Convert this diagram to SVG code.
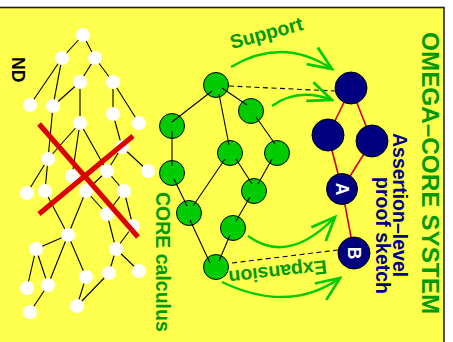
<svg xmlns="http://www.w3.org/2000/svg" width="453" height="342" viewBox="0 0 453 342">
<style>
.w{fill:#ffffff}
.g{fill:#00cc00;stroke:#000;stroke-width:1}
.b{fill:#000080;stroke:#000;stroke-width:1}
.e{stroke:#000;stroke-width:1.1;fill:none}
.r{stroke:#cc0000;stroke-width:1.6;fill:none}
.x{stroke:#dd0000;stroke-width:5;fill:none}
.d{stroke:#000;stroke-width:1.1;stroke-dasharray:5 3.5;fill:none}
.a{stroke:#00cc00;stroke-width:2.4;fill:none;marker-end:url(#ah)}
.t{font-family:"Liberation Sans",Arial,sans-serif;font-weight:bold}
.tg{fill:#009900}
.tb{fill:#000080}
.tw{fill:#fff}
</style>
<defs>
<marker id="ah" markerUnits="userSpaceOnUse" markerWidth="30" markerHeight="30" refX="0" refY="0" viewBox="-22 -11 24 22" orient="auto">
<path d="M-19,-8 L0,0 L-19,8" fill="none" stroke="#00cc00" stroke-width="2.2"/>
</marker>
</defs>
<rect x="0" y="0" width="453" height="342" fill="#fff"/>
<rect x="-5" y="7.5" width="449" height="340" fill="#ffff4d" stroke="#222" stroke-width="1.6"/>

<g id="connectors">
<g class="e">
<line x1="83" y1="35" x2="62" y2="58"/>
<line x1="83" y1="35" x2="95" y2="58"/>
<line x1="62" y1="58" x2="30" y2="105"/>
<line x1="62" y1="58" x2="53" y2="106"/>
<line x1="95" y1="58" x2="80" y2="82"/>
<line x1="95" y1="58" x2="113" y2="82"/>
<line x1="80" y1="82" x2="53" y2="106"/>
<line x1="80" y1="82" x2="80" y2="123"/>
<line x1="113" y1="82" x2="113" y2="114"/>
<line x1="113" y1="82" x2="139" y2="123"/>
<line x1="53" y1="106" x2="48" y2="159"/>
<line x1="80" y1="123" x2="48" y2="159"/>
<line x1="80" y1="123" x2="72" y2="176"/>
<line x1="80" y1="123" x2="107" y2="171"/>
<line x1="113" y1="114" x2="122" y2="147"/>
<line x1="122" y1="147" x2="107" y2="171"/>
<line x1="122" y1="147" x2="148" y2="171"/>
<line x1="48" y1="159" x2="27" y2="193"/>
<line x1="48" y1="159" x2="45" y2="191"/>
<line x1="107" y1="171" x2="86" y2="191"/>
<line x1="107" y1="171" x2="124" y2="191"/>
<line x1="45" y1="191" x2="68" y2="235"/>
<line x1="86" y1="191" x2="68" y2="235"/>
<line x1="86" y1="191" x2="107" y2="214"/>
<line x1="124" y1="191" x2="107" y2="214"/>
<line x1="124" y1="191" x2="133" y2="226"/>
<line x1="107" y1="214" x2="116" y2="249"/>
<line x1="133" y1="226" x2="116" y2="249"/>
<line x1="68" y1="235" x2="36" y2="249"/>
<line x1="68" y1="235" x2="86" y2="277"/>
<line x1="68" y1="235" x2="48" y2="285"/>
<line x1="36" y1="249" x2="27" y2="288"/>
<line x1="36" y1="249" x2="48" y2="285"/>
<line x1="116" y1="249" x2="109" y2="273"/>
<line x1="116" y1="249" x2="139" y2="271"/>
<line x1="86" y1="277" x2="77" y2="306"/>
<line x1="109" y1="273" x2="77" y2="306"/>
<line x1="48" y1="285" x2="30" y2="312"/>
</g>
<g class="r">
<line x1="351" y1="88" x2="328" y2="135"/>
<line x1="351" y1="88" x2="372" y2="141"/>
<line x1="328" y1="135" x2="342" y2="189"/>
<line x1="372" y1="141" x2="342" y2="189"/>
<line x1="342" y1="189" x2="354" y2="253"/>
</g>
<line class="d" x1="229" y1="86" x2="335" y2="91"/>
<line class="d" x1="232" y1="263" x2="338" y2="250"/>
<path class="a" d="M231,67 Q282.5,36 332,69"/>
<path class="a" d="M272,106 Q298,87 332,100"/>
<path class="a" d="M248,236 Q288.5,265.5 335,217"/>
<path class="a" d="M222,282 Q289,314 340,278"/>
</g>

<g id="nd-nodes" class="w">
<g id="nd1"><circle cx="83" cy="35" r="7"/></g>
<g id="nd2"><circle cx="62" cy="58" r="7"/></g>
<g id="nd3"><circle cx="95" cy="58" r="7"/></g>
<g id="nd4"><circle cx="80" cy="82" r="7"/></g>
<g id="nd5"><circle cx="113" cy="82" r="7"/></g>
<g id="nd6"><circle cx="30" cy="105" r="7"/></g>
<g id="nd7"><circle cx="53" cy="106" r="7"/></g>
<g id="nd8"><circle cx="80" cy="123" r="7"/></g>
<g id="nd9"><circle cx="113" cy="114" r="7"/></g>
<g id="nd10"><circle cx="139" cy="123" r="7"/></g>
<g id="nd11"><circle cx="48" cy="159" r="7"/></g>
<g id="nd12"><circle cx="122" cy="147" r="7"/></g>
<g id="nd13"><circle cx="72" cy="176" r="7"/></g>
<g id="nd14"><circle cx="107" cy="171" r="7"/></g>
<g id="nd15"><circle cx="148" cy="171" r="7"/></g>
<g id="nd16"><circle cx="27" cy="193" r="7"/></g>
<g id="nd17"><circle cx="45" cy="191" r="7"/></g>
<g id="nd18"><circle cx="86" cy="191" r="7"/></g>
<g id="nd19"><circle cx="124" cy="191" r="7"/></g>
<g id="nd20"><circle cx="107" cy="214" r="7"/></g>
<g id="nd21"><circle cx="133" cy="226" r="7"/></g>
<g id="nd22"><circle cx="68" cy="235" r="7"/></g>
<g id="nd23"><circle cx="36" cy="249" r="7"/></g>
<g id="nd24"><circle cx="116" cy="249" r="7"/></g>
<g id="nd25"><circle cx="86" cy="277" r="7"/></g>
<g id="nd26"><circle cx="109" cy="273" r="7"/></g>
<g id="nd27"><circle cx="139" cy="271" r="7"/></g>
<g id="nd28"><circle cx="27" cy="288" r="7"/></g>
<g id="nd29"><circle cx="48" cy="285" r="7"/></g>
<g id="nd30"><circle cx="77" cy="306" r="7"/></g>
<g id="nd31"><circle cx="30" cy="312" r="7"/></g>
</g>

<g id="cross">
<line class="x" x1="39" y1="124" x2="138" y2="237"/>
<line class="x" x1="39" y1="214" x2="133" y2="136"/>
</g>

<g id="core-nodes" class="g">
<g id="c1"><circle cx="216" cy="85" r="12.5"/></g>
<g id="c2"><circle cx="251" cy="111" r="12.5"/></g>
<g id="c3"><circle cx="172" cy="126" r="12.5"/></g>
<g id="c4"><circle cx="230" cy="153" r="12.5"/></g>
<g id="c5"><circle cx="277" cy="153" r="12.5"/></g>
<g id="c6"><circle cx="172" cy="173" r="12.5"/></g>
<g id="c7"><circle cx="189" cy="213" r="12.5"/></g>
<g id="c8"><circle cx="254" cy="191" r="12.5"/></g>
<g id="c9"><circle cx="233" cy="228" r="12.5"/></g>
<g id="c10"><circle cx="216" cy="267" r="12.5"/></g>
</g>
<g id="core-edges" class="e">
<line x1="212" y1="91" x2="172" y2="122"/>
<line x1="219" y1="94" x2="229" y2="145"/>
<line x1="222" y1="88" x2="247" y2="105"/>
<line x1="256" y1="117" x2="275" y2="144"/>
<line x1="172" y1="131" x2="172" y2="166"/>
<line x1="225" y1="159" x2="193" y2="206"/>
<line x1="236" y1="159" x2="252" y2="184"/>
<line x1="272" y1="159" x2="258" y2="184"/>
<line x1="174" y1="179" x2="187" y2="206"/>
<line x1="190" y1="220" x2="210" y2="263"/>
<line x1="250" y1="197" x2="236" y2="221"/>
<line x1="230" y1="235" x2="219" y2="261"/>
</g>

<g id="ps-nodes" class="b">
<g id="p1"><circle cx="351" cy="88" r="16"/></g>
<g id="p2"><circle cx="328" cy="135" r="16"/></g>
<g id="p3"><circle cx="372" cy="141" r="16"/></g>
<g id="pA"><circle cx="342" cy="189" r="15.5"/><text class="t tw" font-size="17.5" stroke="none" text-anchor="middle" transform="translate(342,189) rotate(90)" y="6.2">A</text></g>
<g id="pB"><circle cx="354" cy="253" r="16"/><text class="t tw" font-size="17.5" stroke="none" text-anchor="middle" transform="translate(354,253) rotate(90)" y="6.2">B</text></g>
</g>

<g id="labels" class="t">
<text font-size="17.5" fill="#000" transform="translate(12,57) rotate(90)">ND</text>
<text class="tg" font-size="19.5" transform="translate(155.5,192) rotate(90)">CORE calculus</text>
<text class="tg" font-size="24.3" transform="translate(422,32) rotate(90)">OMEGA–CORE SYSTEM</text>
<text class="tb" font-size="19.5" transform="translate(392.5,133) rotate(90)">Assertion–level</text>
<text class="tb" font-size="19.5" transform="translate(376,177) rotate(90)">proof sketch</text>
<text class="tg" font-size="19.5" transform="translate(232,49) rotate(-15)">Support</text>
<text class="tg" font-size="19.5" transform="translate(326,260) rotate(173.5)">Expansion</text>
</g>
</svg>
